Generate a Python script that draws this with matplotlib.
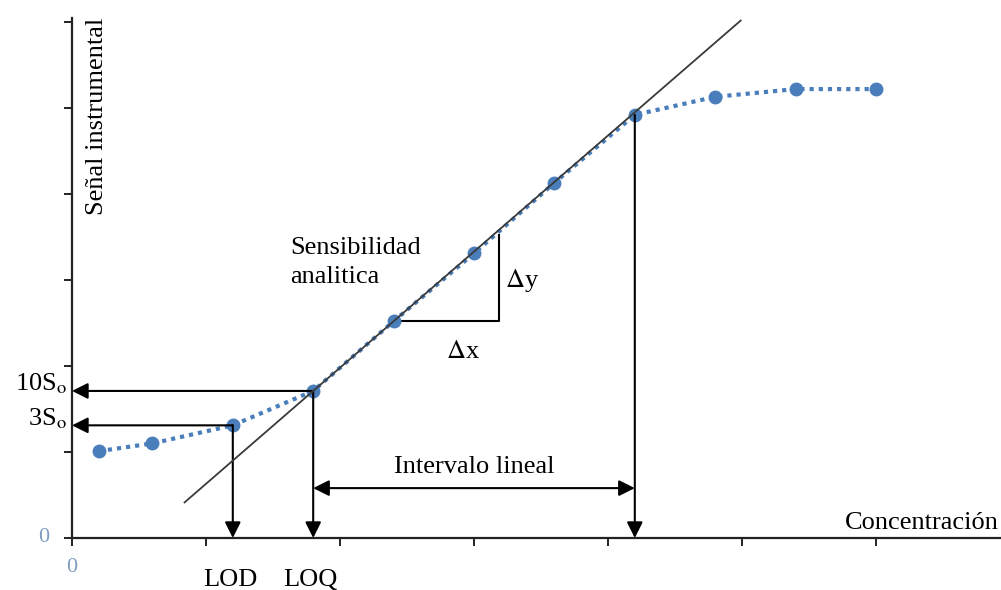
import matplotlib
matplotlib.use("Agg")
import matplotlib.pyplot as plt
import numpy as np

# calibration points (concentration, signal)
conc = [0.2, 0.6, 1.2, 1.8, 2.4, 3.0, 3.6, 4.2, 4.8, 5.4, 6.0]
signal = [1.01, 1.10, 1.31, 1.71, 2.52, 3.31, 4.13, 4.92, 5.13, 5.22, 5.22]

# linear fit over the linear range
slope = 1.35
intercept = -0.72
fit_x = [0.84, 4.99]

i_lod, i_loq, i_top = 2, 3, 7
ticks = [0, 1, 2, 3, 4, 5, 6]

plt.rcParams['font.family'] = ['Liberation Serif', 'DejaVu Serif']
plt.rcParams['mathtext.fontset'] = 'stix'

W, H = 1001, 590
fig = plt.figure(figsize=(W / 100, H / 100), dpi=100)
ax = fig.add_axes([72 / W, (H - 538) / H, (W - 72) / W, (538 - 18) / H])
ax.set_xlim(0, (W - 72) / 134)
ax.set_ylim(0, (538 - 18) / 86)

for s in ['top', 'right']:
    ax.spines[s].set_visible(False)
for s in ['left', 'bottom']:
    ax.spines[s].set_linewidth(1.6)
    ax.spines[s].set_color('#222222')
ax.set_xticks(ticks)
ax.set_yticks(ticks)
ax.tick_params(direction='out', length=6, width=1.4, color='#222222',
               labelbottom=False, labelleft=False)

# data series
ax.plot(conc, signal, ls=(0, (1, 1.2)), lw=3, color='#4a7ebb',
        marker='o', ms=9, clip_on=False, zorder=3)

# regression line
fx = np.array(fit_x)
ax.plot(fx, slope * fx + intercept, color='#3a3a3a', lw=1.3, zorder=4)

arrow = dict(arrowstyle='-|>', color='black', lw=1.5, mutation_scale=24,
             shrinkA=0, shrinkB=0)

# horizontal arrows to the signal axis
for i in (i_lod, i_loq):
    ax.annotate('', xy=(0, signal[i]), xytext=(conc[i], signal[i]),
                arrowprops=arrow, annotation_clip=False)
# vertical arrows to the concentration axis
for i in (i_lod, i_loq, i_top):
    ax.annotate('', xy=(conc[i], 0), xytext=(conc[i], signal[i]),
                arrowprops=arrow, annotation_clip=False)

# linear range
y_int = 0.58
ax.annotate('', xy=(conc[i_loq], y_int), xytext=(conc[i_top], y_int),
            arrowprops=dict(arrow, arrowstyle='<|-|>'))
ax.text((conc[i_loq] + conc[i_top]) / 2, 0.82, 'Intervalo lineal',
        fontsize=19, ha='center', va='center')

# slope triangle
tx0, ty0 = conc[4], signal[4]
tx1 = 3.19
ax.plot([tx0, tx1, tx1], [ty0, ty0, 3.52], color='black', lw=1.5)
ax.text(tx1 + 0.04, 3.0, r'$\Delta$y', fontsize=19, ha='left', va='center')
ax.text(2.92, 2.16, r'$\Delta$x', fontsize=19, ha='center', va='center')
ax.text(1.63, 3.2, 'Sensibilidad\nanalitica', fontsize=19, ha='left',
        va='center', linespacing=1.4)

# labels
ax.text(0.187, 6.05, 'Señal instrumental', rotation=90, fontsize=19,
        ha='center', va='top')
ax.text(5.77, 0.17, 'Concentración', fontsize=19, ha='left', va='center')
ax.text(-0.04, 1.80, r'10S$_\mathrm{o}$', fontsize=19, ha='right',
        va='center', clip_on=False)
ax.text(-0.04, 1.39, r'3S$_\mathrm{o}$', fontsize=19, ha='right',
        va='center', clip_on=False)
ax.text(conc[i_lod] - 0.02, -0.49, 'LOD', fontsize=19, ha='center',
        va='center', clip_on=False)
ax.text(conc[i_loq] - 0.02, -0.49, 'LOQ', fontsize=19, ha='center',
        va='center', clip_on=False)
ax.text(-0.21, 0.0, '0', fontsize=16, color='#7f9cc0', ha='center',
        va='center', clip_on=False)
ax.text(0.0, -0.34, '0', fontsize=16, color='#7f9cc0', ha='center',
        va='center', clip_on=False)

fig.savefig('out.png', dpi=100)
